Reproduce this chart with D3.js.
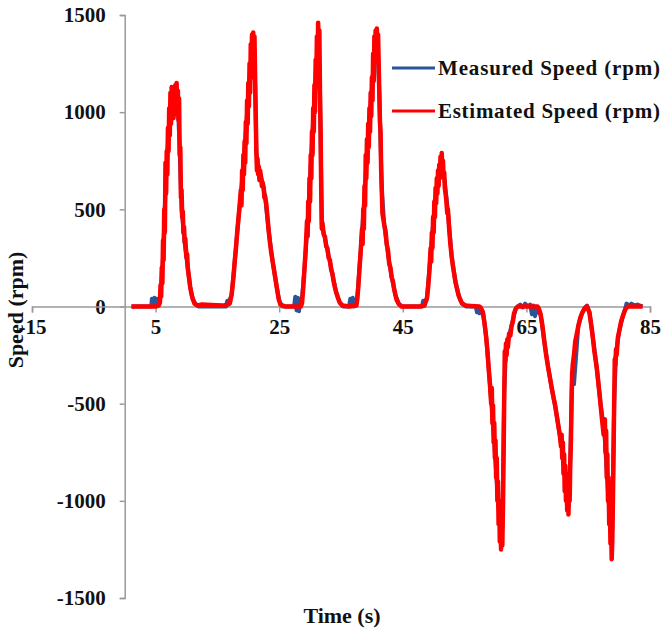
<!DOCTYPE html>
<html>
<head>
<meta charset="utf-8">
<script src="https://cdn.jsdelivr.net/npm/d3@7"></script>
<style>
  body { margin: 0; background: #fff; }
  text { font-family: "Liberation Serif", "Times New Roman", serif; font-weight: bold; fill: #111; }
</style>
</head>
<body>
<svg id="chart" width="665" height="630"></svg>
<script>
// Measured speed (rpm), blue series
const measTime = [1.1,4.3,4.4,4.6,4.8,5.0,5.2,5.5,5.8,6.2,6.6,7.0,7.4,7.8,8.2,8.6,8.9,9.2,9.5,9.8,10.2,10.6,11.0,11.5,12.0,
  16.4,16.6,16.8,17.0,17.3,17.8,18.4,19.0,19.6,20.2,20.7,21.0,21.3,21.5,22.1,22.7,23.3,23.9,24.5,24.6,25.0,25.5,
  27.4,27.6,27.8,28.0,28.2,28.4,28.6,29.1,29.7,30.3,30.9,31.3,31.6,31.9,32.4,33.0,33.6,34.2,34.8,35.4,
  36.3,36.5,36.7,36.9,37.1,37.3,37.6,38.2,38.8,39.4,40.0,40.5,40.9,41.2,41.6,42.0,42.6,43.2,43.8,44.4,45.0,
  48.1,48.3,48.5,48.7,48.9,49.5,50.1,50.7,51.3,51.8,52.3,52.9,53.5,54.1,54.6,55.2,
  56.8,57.0,57.2,57.4,57.7,58.0,58.5,59.1,59.7,60.3,60.8,61.1,61.4,61.7,62.2,62.8,63.3,63.6,
  64.0,64.4,64.8,65.2,65.6,65.9,66.1,66.4,66.6,66.9,67.3,67.9,68.5,69.1,69.7,70.3,70.9,71.5,71.8,72.1,72.4,72.7,73.4,74.0,74.5,74.8,
  75.2,75.8,76.4,77.0,77.6,78.2,78.7,78.9,79.2,79.5,80.0,80.6,81.0,81.2,81.6,82.0,82.5,83.0,83.8];
const measSpeed = [0,0,40,10,45,15,40,10,60,250,600,850,1010,1060,1080,1050,800,500,400,300,200,100,40,10,0,
  0,30,10,35,60,230,450,650,900,1180,1330,1300,800,720,660,570,390,240,120,100,30,0,
  0,50,-20,45,-25,40,10,200,480,840,1200,1380,1100,420,350,260,170,75,20,0,
  0,40,5,45,0,35,30,290,570,880,1120,1330,1350,1100,600,420,270,150,60,10,0,
  0,30,5,35,40,270,500,660,740,640,490,260,130,50,15,0,
  0,-30,-5,-35,-15,-30,-160,-400,-650,-950,-1150,-1150,-450,-220,-150,-70,-10,0,
  10,-5,15,0,10,-40,5,-50,-10,-30,-40,-180,-310,-420,-520,-640,-760,-950,-1040,-800,-340,-400,-100,-35,-5,5,
  -30,-170,-320,-500,-640,-950,-1180,-1150,-500,-240,-130,-50,-10,15,5,15,5,10,0];

// Estimated speed (rpm), red series
const estTime = [
  1.1,5.0,5.5,5.7,5.8,5.9,6.0,6.1,6.2,6.3,6.4,6.5,6.6,6.7,6.8,6.9,7.0,7.1,7.2,7.3,7.4,7.5,7.6,7.7,7.8,7.9,8.0,8.1,8.2,8.3,8.4,8.5,8.6,8.7,8.8,
  8.9,9.0,9.1,9.2,9.3,9.4,9.5,9.6,9.7,9.8,10.0,10.1,10.2,10.4,10.6,10.8,11.0,11.3,11.8,12.5,14.0,16.0,17.0,
  17.3,17.6,17.8,18.0,18.2,18.4,18.6,18.8,18.9,19.0,19.1,19.2,19.3,19.4,19.5,19.6,19.7,19.8,19.9,20.0,20.1,20.2,20.3,20.4,20.5,20.6,20.7,20.8,20.9,21.0,
  21.1,21.2,21.3,21.4,21.5,21.6,21.7,21.8,21.9,22.1,22.2,22.3,22.5,22.6,22.7,22.9,23.1,23.3,23.5,23.7,23.9,24.1,24.3,24.5,24.7,24.9,25.2,26.0,27.5,28.5,
  28.7,28.9,29.1,29.3,29.5,29.6,29.7,29.8,29.9,30.0,30.1,30.2,30.3,30.4,30.5,30.6,30.7,30.8,30.9,31.0,31.1,31.2,31.3,31.4,31.5,
  31.6,31.7,31.8,31.9,32.0,32.2,32.4,32.6,32.8,33.0,33.2,33.4,33.6,33.8,34.0,34.2,34.5,34.8,35.2,36.4,37.5,
  37.6,37.8,38.0,38.2,38.4,38.5,38.6,38.7,38.8,38.9,39.0,39.1,39.2,39.3,39.4,39.5,39.6,39.7,39.8,39.9,40.0,40.1,40.2,40.3,40.4,40.5,40.6,40.7,40.8,40.9,
  41.0,41.1,41.2,41.3,41.4,41.5,41.6,41.7,41.8,42.0,42.2,42.4,42.6,42.8,43.0,43.2,43.4,43.6,43.8,44.0,44.3,44.8,47.8,48.5,
  48.9,49.1,49.3,49.5,49.6,49.7,49.8,49.9,50.0,50.1,50.2,50.3,50.4,50.5,50.6,50.7,50.8,50.9,51.0,51.1,51.2,51.3,51.4,51.5,51.6,
  51.7,51.8,52.0,52.2,52.3,52.5,52.7,52.9,53.1,53.3,53.5,53.7,54.0,54.3,54.6,55.2,56.0,57.4,
  57.6,57.9,58.2,58.5,58.7,58.9,59.1,59.3,59.4,59.5,59.6,59.7,59.8,59.9,60.0,60.1,60.2,60.3,60.4,60.5,60.6,60.7,60.8,60.9,61.0,
  61.1,61.2,61.3,61.4,61.5,61.6,61.7,61.8,61.9,62.0,62.2,62.4,62.6,62.8,63.0,63.3,63.6,66.8,
  67.0,67.3,67.6,67.9,68.2,68.5,68.8,69.1,69.4,69.6,69.8,70.0,70.2,70.4,70.6,70.7,70.8,70.9,71.0,71.1,71.2,71.3,71.4,71.5,71.6,
  71.7,71.8,71.9,72.0,72.1,72.2,72.3,72.4,72.5,72.7,72.9,73.1,73.4,73.7,74.0,74.4,74.8,
  75.2,75.6,76.0,76.4,76.8,77.2,77.5,77.7,77.8,77.9,78.0,78.1,78.2,78.3,78.4,78.5,78.6,78.7,78.8,78.9,
  79.0,79.1,79.2,79.3,79.4,79.5,79.6,79.8,80.0,80.3,80.6,81.0,81.4,83.8];
const estSpeed = [
  0,0,5,20,110,50,200,120,340,240,500,380,740,580,800,680,920,800,1020,880,1100,940,1130,1000,1120,970,1130,1020,1140,990,1150,1000,1110,960,1070,
  780,820,560,600,460,490,380,410,330,350,250,270,200,150,100,65,40,15,5,10,8,5,15,
  60,150,230,300,380,450,520,600,520,700,600,780,680,850,740,950,840,1060,940,1150,1030,1250,1100,1350,1180,1400,1230,1410,1260,1390,
  1180,1000,800,700,760,680,720,650,700,660,620,640,610,560,570,530,460,390,330,280,240,200,160,120,80,40,10,0,0,0,
  20,100,200,300,440,360,540,440,660,540,780,660,900,780,1020,900,1140,1000,1270,1130,1390,1230,1460,1290,1420,
  1100,900,600,400,430,370,360,310,300,250,240,190,170,130,100,75,45,20,5,0,5,
  30,100,200,290,400,320,500,400,620,520,780,660,860,740,940,820,1020,900,1100,980,1180,1060,1300,1160,1390,1260,1420,1300,1430,1290,
  1400,1250,1100,950,900,700,600,480,460,420,390,320,290,220,200,150,130,90,60,35,15,0,0,5,
  40,100,180,300,230,380,300,460,380,540,460,610,530,660,580,700,620,730,660,770,690,790,700,750,670,
  690,610,560,480,500,400,320,260,210,170,130,100,60,35,15,5,3,0,
  -5,-25,-80,-160,-230,-320,-400,-500,-420,-600,-510,-700,-600,-780,-690,-880,-780,-1000,-900,-1120,-1000,-1210,-1080,-1250,-1100,
  -1230,-1050,-800,-500,-230,-280,-190,-250,-170,-210,-140,-150,-100,-80,-35,-10,0,0,
  -10,-40,-100,-180,-250,-310,-365,-420,-470,-500,-540,-580,-620,-660,-720,-660,-780,-700,-860,-760,-950,-820,-1000,-860,-1050,
  -960,-1070,-900,-1000,-800,-700,-500,-350,-300,-250,-180,-150,-100,-60,-35,-10,0,
  -30,-120,-230,-320,-440,-570,-660,-580,-750,-640,-880,-760,-1000,-880,-1120,-1000,-1220,-1100,-1300,-1200,
  -1000,-750,-500,-270,-300,-220,-250,-160,-130,-80,-50,-15,0,0];

const xTicks = [-15, 5, 25, 45, 65, 85];
const yTicks = [-1500, -1000, -500, 0, 500, 1000, 1500];
const seriesNames = ["Measured Speed (rpm)", "Estimated Speed (rpm)"];
const seriesColors = ["#2a5599", "#ff0000"];

const svg = d3.select("#chart");

const x = d3.scaleLinear().domain([-15, 85]).range([32, 650]);
const y = d3.scaleLinear().domain([-1500, 1500]).range([598, 15]);

const axisColor = "#9a9a9a";
const fontSize = 21;

// y axis at t = 0
const yAxis = svg.append("g")
    .attr("transform", `translate(${x(0)},0)`)
    .call(d3.axisLeft(y).tickValues(yTicks).tickSize(5).tickPadding(14).tickFormat(d => String(d)));
yAxis.select(".domain").attr("stroke", axisColor).attr("stroke-width", 1.5);
yAxis.selectAll(".tick line").attr("stroke", axisColor).attr("stroke-width", 1.5);
yAxis.selectAll(".tick text")
    .attr("font-family", "Liberation Serif, serif")
    .attr("font-weight", "bold")
    .attr("font-size", fontSize)
    .attr("fill", "#111");

// x axis at speed = 0
const xAxis = svg.append("g")
    .attr("transform", `translate(0,${y(0)})`)
    .call(d3.axisBottom(x).tickValues(xTicks).tickSize(6).tickPadding(7).tickFormat(d => String(d)));
xAxis.select(".domain").attr("stroke", axisColor).attr("stroke-width", 1.5);
xAxis.selectAll(".tick line").attr("stroke", axisColor).attr("stroke-width", 1.5);
xAxis.selectAll(".tick text")
    .attr("font-family", "Liberation Serif, serif")
    .attr("font-weight", "bold")
    .attr("font-size", fontSize)
    .attr("fill", "#111");

// Lines
const line = d3.line().x(d => x(d[0])).y(d => y(d[1]));
const measData = measTime.map((t, i) => [t, measSpeed[i]]);
const estData = estTime.map((t, i) => [t, estSpeed[i]]);

svg.append("path")
    .datum(measData)
    .attr("d", line)
    .attr("fill", "none")
    .attr("stroke", seriesColors[0])
    .attr("stroke-width", 4)
    .attr("stroke-linejoin", "round");

svg.append("path")
    .datum(estData)
    .attr("d", line)
    .attr("fill", "none")
    .attr("stroke", seriesColors[1])
    .attr("stroke-width", 4.5)
    .attr("stroke-linejoin", "round");

// Axis titles
svg.append("text")
    .attr("x", 342).attr("y", 623)
    .attr("text-anchor", "middle")
    .attr("font-size", 22)
    .text("Time (s)");

svg.append("text")
    .attr("transform", "translate(23,310) rotate(-90)")
    .attr("text-anchor", "middle")
    .attr("font-size", 22)
    .text("Speed (rpm)");

// Legend
const legend = svg.append("g").attr("transform", "translate(392,68)");
seriesNames.forEach((name, i) => {
    const g = legend.append("g").attr("transform", `translate(0,${i * 43})`);
    g.append("line")
        .attr("x1", 0).attr("x2", 43)
        .attr("stroke", seriesColors[i])
        .attr("stroke-width", 3);
    g.append("text")
        .attr("x", 46).attr("y", 7)
        .attr("font-size", 21)
        .attr("textLength", 222)
        .attr("lengthAdjust", "spacing")
        .text(name);
});
</script>
</body>
</html>
